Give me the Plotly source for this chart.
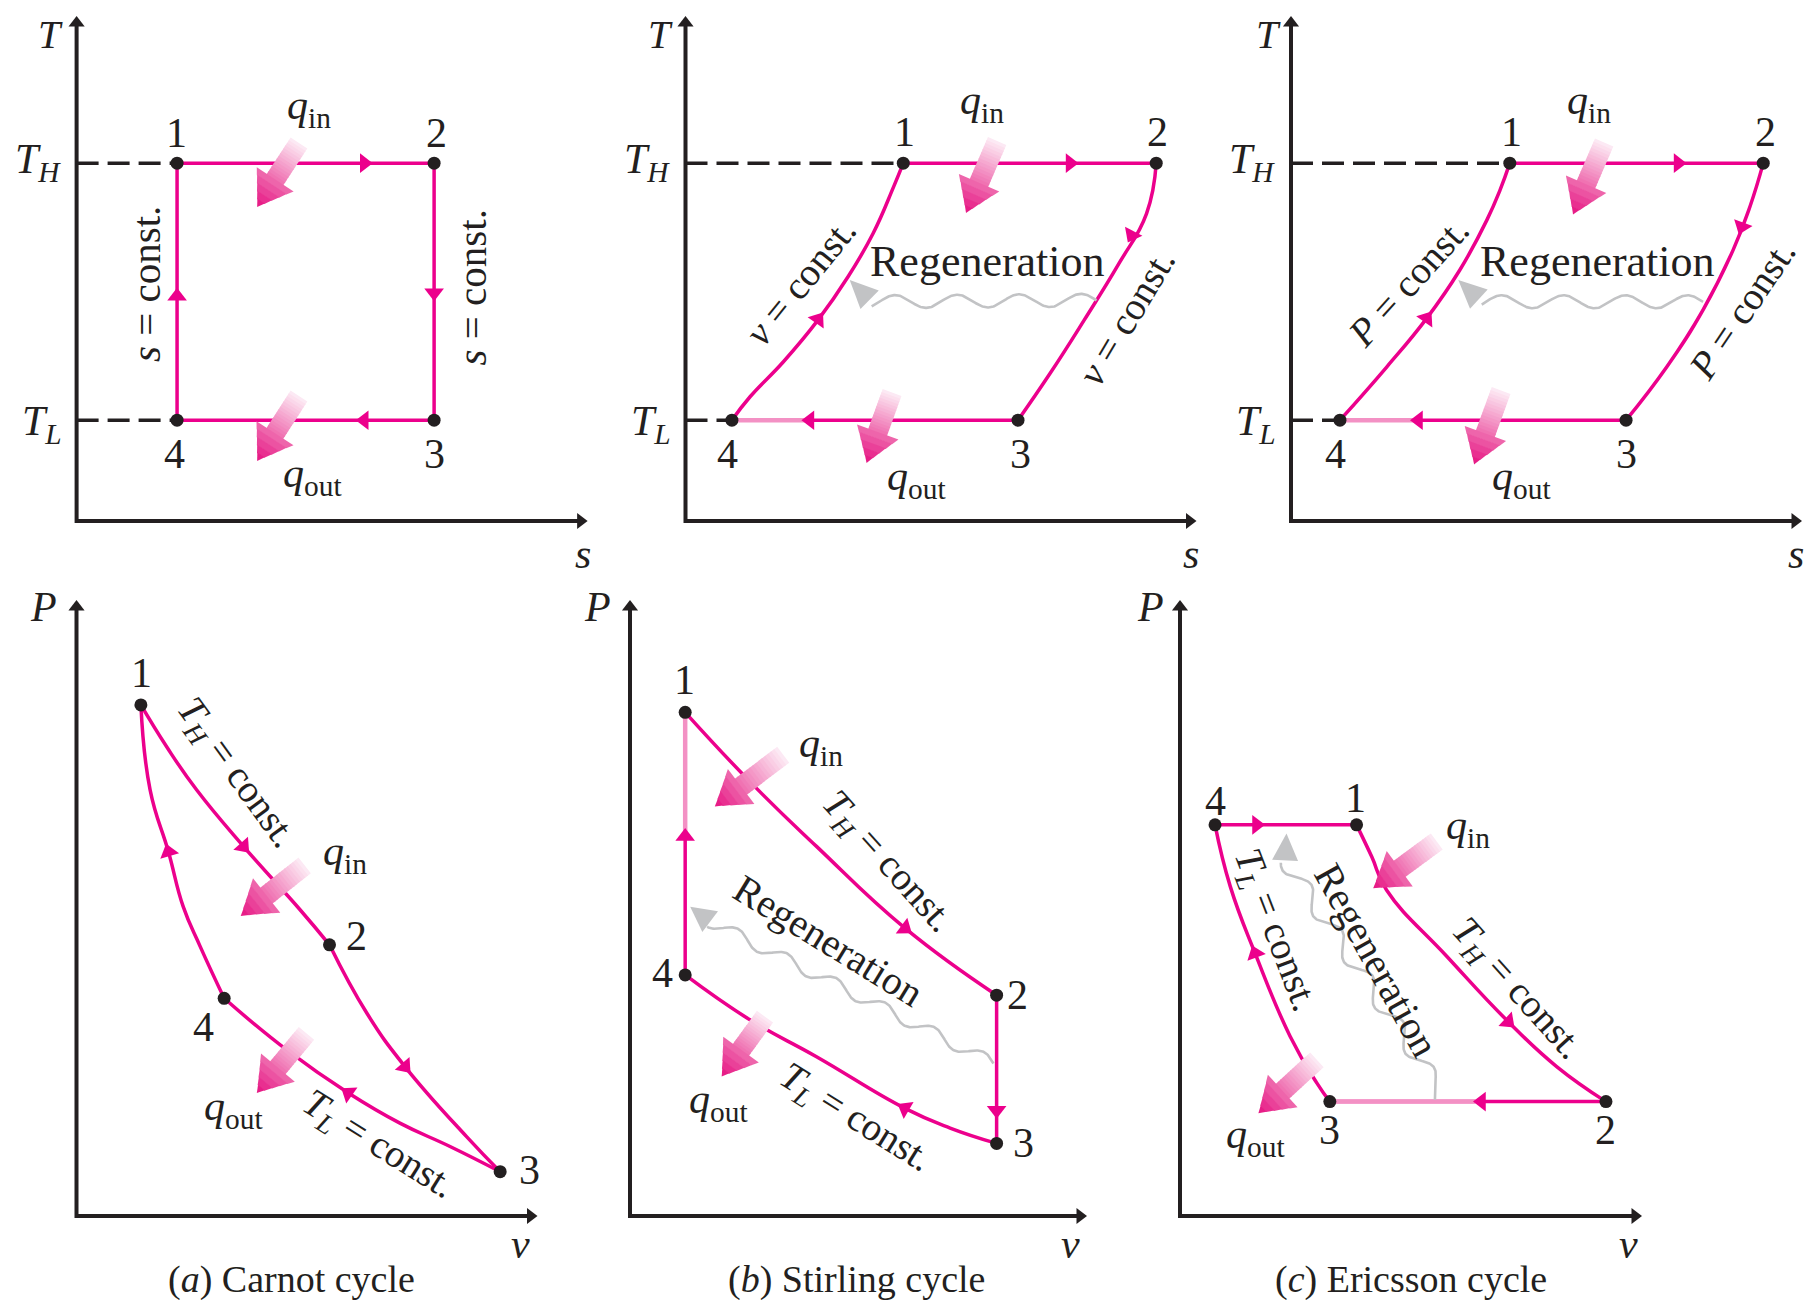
import numpy as np
import plotly.graph_objects as go

# page size and the 8px body margin of the html page
PW, PH = 1819, 1308
OFF = 8
WF, HF = PW - 2 * OFF, PH - 2 * OFF

MAG = "#EC008C"
MAG_LIGHT = "#F391C4"
INK = "#231F20"
GRAY = "#C2C3C5"
FONT = "Liberation Serif"

# ---------------- data: state points and curve points (units 0-10 on each axis) -------------
# (a) Carnot cycle, T-s   (states 1,2,3,4)
A_TS_S = [1.97, 7.01, 7.01, 1.97]
A_TS_T = [7.10, 7.10, 2.00, 2.00]
# (b) Stirling cycle, T-s
B_TS_S = [4.27, 9.23, 6.52, 0.91]
B_TS_T = [7.10, 7.10, 2.00, 2.00]
B_TS_41_S = [1.27, 1.92, 2.60, 3.19, 3.68, 4.08]   # v = const, 4 -> 1
B_TS_41_T = [2.47, 3.16, 3.99, 4.85, 5.71, 6.63]
B_TS_23_S = [9.04, 8.50, 7.82, 7.15]               # v = const, 2 -> 3
B_TS_23_T = [6.10, 5.11, 3.99, 2.93]
# (c) Ericsson cycle, T-s
C_TS_S = [4.29, 9.26, 6.57, 0.96]
C_TS_T = [7.10, 7.10, 2.00, 2.00]
C_TS_41_S = [1.88, 2.66, 3.31, 3.84, 4.10]         # P = const, 4 -> 1
C_TS_41_T = [3.06, 4.02, 4.98, 5.97, 6.57]
C_TS_23_S = [9.00, 8.67, 8.08, 7.37]               # P = const, 2 -> 3
C_TS_23_T = [6.24, 5.38, 4.19, 3.06]
# (a) Carnot cycle, P-v
A_PV_V = [1.40, 5.50, 9.21, 3.21]
A_PV_P = [8.31, 4.41, 0.72, 3.54]
A_PV_12_V = [1.96, 2.61, 3.63, 4.86]
A_PV_12_P = [7.63, 6.93, 6.01, 4.98]
A_PV_23_V = [6.31, 7.14, 8.48]
A_PV_23_P = [3.30, 2.43, 1.29]
A_PV_43_V = [4.57, 5.91, 7.03, 8.12]
A_PV_43_P = [2.70, 2.00, 1.51, 1.13]
A_PV_41_V = [2.69, 2.32, 2.00, 1.60]
A_PV_41_P = [4.38, 5.03, 5.92, 6.93]
# (b) Stirling cycle, P-v
B_PV_V = [1.21, 8.04, 8.04, 1.21]
B_PV_P = [8.19, 3.59, 1.18, 3.92]
B_PV_12_V = [2.70, 4.09, 6.03]
B_PV_12_P = [7.01, 6.01, 4.68]
B_PV_43_V = [2.63, 4.09, 6.03, 7.02]
B_PV_43_P = [3.19, 2.59, 1.75, 1.43]
# (c) Ericsson cycle, P-v
C_PV_V = [3.83, 9.24, 3.25, 0.76]
C_PV_P = [6.36, 1.86, 1.86, 6.36]
C_PV_12_V = [4.16, 4.48, 5.79, 7.12, 8.17]
C_PV_12_P = [5.84, 5.30, 4.22, 3.16, 2.43]
C_PV_43_V = [1.09, 1.63, 2.39, 2.97]
C_PV_43_P = [5.36, 4.27, 2.92, 2.16]

STATES = ["1", "2", "3", "4"]
CAPTIONS = ["(<i>a</i>) Carnot cycle", "(<i>b</i>) Stirling cycle", "(<i>c</i>) Ericsson cycle"]

# ---------------- panel geometry (page pixels) -------------
# origin x, origin y, x-axis length, y-axis length
GEOM = {1: (76.6, 521, 510, 504), 2: (685.5, 521, 510, 504), 3: (1291, 521, 510, 504),
        4: (76.5, 1216, 460, 615), 5: (630, 1216, 456, 615), 6: (1180, 1216, 461, 615)}
# subplot extents: left, right, top, bottom
EXT = {1: (10, 612, 10, 590), 2: (614, 1222, 10, 590), 3: (1224, 1810, 10, 590),
       4: (10, 560, 592, 1296), 5: (562, 1108, 592, 1296), 6: (1110, 1810, 592, 1296)}

traces, annotations = [], []


def refs(k):
    s = "" if k == 1 else str(k)
    return "x" + s, "y" + s


def to_px(k, u, v):
    x0, y0, lx, ly = GEOM[k]
    return x0 + np.asarray(u, float) * lx / 10.0, y0 - np.asarray(v, float) * ly / 10.0


def to_u(k, px, py):
    x0, y0, lx, ly = GEOM[k]
    return (np.asarray(px, float) - x0) * 10.0 / lx, (y0 - np.asarray(py, float)) * 10.0 / ly


def line(k, xs, ys, color=MAG, width=3.5, shape="linear", dash=None):
    xr, yr = refs(k)
    traces.append(go.Scatter(x=list(xs), y=list(ys), mode="lines", xaxis=xr, yaxis=yr,
                             line=dict(color=color, width=width, shape=shape, dash=dash,
                                       smoothing=1.3 if shape == "spline" else None),
                             hoverinfo="skip", showlegend=False))


def dots(k, xs, ys):
    xr, yr = refs(k)
    traces.append(go.Scatter(x=list(xs), y=list(ys), mode="markers", xaxis=xr, yaxis=yr,
                             marker=dict(color=INK, size=13), hoverinfo="skip",
                             showlegend=False, cliponaxis=False))


def poly(k, pts, color):
    pts = np.array(pts)
    u, v = to_u(k, pts[:, 0], pts[:, 1])
    xr, yr = refs(k)
    traces.append(go.Scatter(x=list(u) + [u[0]], y=list(v) + [v[0]], mode="lines", fill="toself",
                             fillcolor=color, line=dict(width=0, color=color), xaxis=xr, yaxis=yr,
                             hoverinfo="skip", showlegend=False))


def rgb(c):
    return "rgb(%d,%d,%d)" % tuple(int(round(x)) for x in c)


def tri(k, cu, cv, du, dv, size=17, color=MAG):
    """triangle marker at (cu,cv) pointing toward (du,dv)"""
    cx, cy = to_px(k, cu, cv)
    dx, dy = to_px(k, du, dv)
    ang = float(np.degrees(np.arctan2(dx - cx, -(dy - cy))))
    xr, yr = refs(k)
    traces.append(go.Scatter(x=[cu], y=[cv], mode="markers", xaxis=xr, yaxis=yr,
                             marker=dict(symbol="triangle-up", size=size, color=color, angle=ang,
                                         line=dict(width=0)),
                             hoverinfo="skip", showlegend=False, cliponaxis=False))


def heat_arrow(k, tu, tv, hu, hv, hl=33, hw=22, sw=10, n=14):
    tx, ty = to_px(k, tu, tv)
    hx, hy = to_px(k, hu, hv)
    d = np.array([hx - tx, hy - ty])
    L = np.hypot(*d)
    d /= L
    nr = np.array([-d[1], d[0]])
    P = lambda s, w: (tx + d[0] * s + nr[0] * w, ty + d[1] * s + nr[1] * w)
    c0 = np.array([253, 238, 246]); c1 = np.array([239, 110, 176]); c2 = np.array([230, 20, 130])
    base = L - hl
    for i in range(n):
        s0 = base * i / n
        s1 = base * (i + 1) / n + 0.8
        col = c0 + (c1 - c0) * (i + 0.5) / n
        poly(k, [P(s0, -sw), P(s1, -sw), P(s1, sw), P(s0, sw)], rgb(col))
    m = 5
    for j in range(m):
        f0, f1 = j / m, (j + 1) / m
        w0, w1 = hw * (1 - f0), hw * (1 - f1)
        s0 = base + hl * f0 - (0.6 if j else 0)
        s1 = base + hl * f1
        col = c1 + (c2 - c1) * (j + 0.5) / m
        if j == m - 1:
            poly(k, [P(s0, -w0), P(s1, 0), P(s0, w0)], rgb(col))
        else:
            poly(k, [P(s0, -w0), P(s1, -w1), P(s1, w1), P(s0, w0)], rgb(col))


def regen(k, A, B, tip, lead=None, amp=6.5, lam=62, hl=28, hw=13):
    ax_, ay_ = to_px(k, *A)
    bx, by = to_px(k, *B)
    d = np.array([bx - ax_, by - ay_])
    L = np.hypot(*d)
    d /= L
    nr = np.array([-d[1], d[0]])
    s = np.linspace(0, L, 400)
    off = amp * np.sin(2 * np.pi * s / lam)
    xs = ax_ + d[0] * s + nr[0] * off
    ys = ay_ + d[1] * s + nr[1] * off
    if lead is not None:
        lx, ly = to_px(k, *lead)
        xs = np.concatenate([[lx], xs])
        ys = np.concatenate([[ly], ys])
    u, v = to_u(k, xs, ys)
    line(k, u, v, color=GRAY, width=2.6)
    tx, ty = to_px(k, *tip)
    e = np.array([tx - bx, ty - by])
    e /= np.hypot(*e)
    en = np.array([-e[1], e[0]])
    b0 = np.array([tx, ty]) - hl * e
    poly(k, [(tx, ty), tuple(b0 + hw * en), tuple(b0 - hw * en)], GRAY)


def axes_lines(k):
    x0, y0, lx, ly = GEOM[k]
    # arrow marker centres sit 6 px short of the axis tips
    xe = 10 - 6 * 10.0 / lx
    ye = 10 - 6 * 10.0 / ly
    line(k, [xe, 0, 0], [0, 0, ye], color=INK, width=4)
    tri(k, xe, 0, 10, 0, size=14, color=INK)
    tri(k, 0, ye, 0, 10, size=14, color=INK)


def txt(k, u, v, s, size=42, angle=0, color=INK):
    xr, yr = refs(k)
    annotations.append(dict(x=u, y=v, xref=xr, yref=yr, text=s, showarrow=False, textangle=angle,
                            font=dict(family=FONT, size=size, color=color),
                            xanchor="center", yanchor="middle"))


QIN = "<i>q</i><sub>in</sub>"
QOUT = "<i>q</i><sub>out</sub>"
TH = "<i>T</i><sub><i>H</i></sub>"
TL = "<i>T</i><sub><i>L</i></sub>"
DASH = "22px,9px"

for k in GEOM:
    axes_lines(k)

# ======================= (a) Carnot T-s =======================
k = 1
S, T = A_TS_S, A_TS_T
line(k, [0, S[0]], [T[0], T[0]], color=INK, width=3.5, dash=DASH)
line(k, [0, S[3]], [T[3], T[3]], color=INK, width=3.5, dash=DASH)
line(k, S + [S[0]], T + [T[0]])
heat_arrow(k, 4.36, 7.50, 3.54, 6.23)
heat_arrow(k, 4.36, 2.48, 3.54, 1.19)
tri(k, 5.64, T[0], 7.0, T[0])
tri(k, S[1], 4.53, S[1], 2.0)
tri(k, 5.64, T[2], 3.0, T[2])
tri(k, S[0], 4.46, S[0], 7.0)
dots(k, S, T)
txt(k, -0.52, 9.66, "<i>T</i>", size=40)
txt(k, -0.76, 7.12, TH)
txt(k, -0.68, 1.92, TL)
txt(k, 9.93, -0.65, "<i>s</i>")
for lab, (u, v) in zip(STATES, [(1.95, 7.70), (7.05, 7.70), (7.01, 1.33), (1.91, 1.33)]):
    txt(k, u, v, lab)
txt(k, 4.56, 8.19, QIN)
txt(k, 4.62, 0.89, QOUT)
txt(k, 1.36, 4.70, "<i>s</i> = const.", size=41, angle=-90)
txt(k, 7.76, 4.64, "<i>s</i> = const.", size=41, angle=-90)

# ======================= (b) Stirling T-s =======================
k = 2
S, T = B_TS_S, B_TS_T
line(k, [0, S[0]], [T[0], T[0]], color=INK, width=3.5, dash=DASH)
line(k, [0, S[3]], [T[3], T[3]], color=INK, width=3.5, dash=DASH)
line(k, [S[0], S[1]], [T[0], T[1]])
line(k, [S[1]] + B_TS_23_S + [S[2]], [T[1]] + B_TS_23_T + [T[2]], shape="spline")
line(k, [S[2], S[3]], [T[2], T[3]])
line(k, [S[3], 2.4], [T[3], T[3]], color=MAG_LIGHT, width=4.5)
line(k, [S[3]] + B_TS_41_S + [S[0]], [T[3]] + B_TS_41_T + [T[0]], shape="spline")
regen(k, (8.06, 4.38), (3.65, 4.35), (3.22, 4.78))
heat_arrow(k, 6.11, 7.54, 5.50, 6.11)
heat_arrow(k, 4.05, 2.55, 3.55, 1.15)
tri(k, 7.54, T[0], 9.0, T[0])
tri(k, 2.44, T[2], 1.0, T[2])
tri(k, 2.60, 4.00, 3.19, 4.85)
tri(k, 8.75, 5.675, 8.46, 5.11)
dots(k, S, T)
txt(k, -0.50, 9.66, "<i>T</i>", size=40)
txt(k, -0.76, 7.12, TH)
txt(k, -0.68, 1.92, TL)
txt(k, 9.91, -0.65, "<i>s</i>")
for lab, (u, v) in zip(STATES, [(4.30, 7.72), (9.25, 7.72), (6.56, 1.33), (0.83, 1.33)]):
    txt(k, u, v, lab)
txt(k, 5.81, 8.29, QIN)
txt(k, 4.52, 0.83, QOUT)
txt(k, 2.245, 4.75, "<i>v</i> = const.", size=39, angle=-51)
txt(k, 8.65, 4.05, "<i>v</i> = const.", size=39, angle=-59)
txt(k, 5.93, 5.14, "Regeneration", size=44)

# ======================= (c) Ericsson T-s =======================
k = 3
S, T = C_TS_S, C_TS_T
line(k, [0, S[0]], [T[0], T[0]], color=INK, width=3.5, dash=DASH)
line(k, [0, S[3]], [T[3], T[3]], color=INK, width=3.5, dash=DASH)
line(k, [S[0], S[1]], [T[0], T[1]])
line(k, [S[1]] + C_TS_23_S + [S[2]], [T[1]] + C_TS_23_T + [T[2]], shape="spline")
line(k, [S[2], S[3]], [T[2], T[3]])
line(k, [S[3], 2.45], [T[3], T[3]], color=MAG_LIGHT, width=4.5)
line(k, [S[3]] + C_TS_41_S + [S[0]], [T[3]] + C_TS_41_T + [T[0]], shape="spline")
regen(k, (8.08, 4.35), (3.74, 4.35), (3.28, 4.78))
heat_arrow(k, 6.14, 7.51, 5.53, 6.08)
heat_arrow(k, 4.12, 2.59, 3.59, 1.12)
tri(k, 7.59, T[0], 9.0, T[0])
tri(k, 2.50, T[2], 1.0, T[2])
tri(k, 2.66, 4.02, 3.31, 4.98)
tri(k, 8.84, 5.84, 8.67, 5.38)
dots(k, S, T)
txt(k, -0.45, 9.66, "<i>T</i>", size=40)
txt(k, -0.76, 7.12, TH)
txt(k, -0.68, 1.92, TL)
txt(k, 9.90, -0.65, "<i>s</i>")
for lab, (u, v) in zip(STATES, [(4.33, 7.72), (9.31, 7.72), (6.57, 1.33), (0.88, 1.33)]):
    txt(k, u, v, lab)
txt(k, 5.85, 8.29, QIN)
txt(k, 4.52, 0.83, QOUT)
txt(k, 2.30, 4.75, "<i>P</i> = const.", size=39, angle=-48)
txt(k, 8.84, 4.19, "<i>P</i> = const.", size=39, angle=-56)
txt(k, 6.00, 5.14, "Regeneration", size=44)

# ======================= (a) Carnot P-v =======================
k = 4
V, P = A_PV_V, A_PV_P
line(k, [V[0]] + A_PV_12_V + [V[1]], [P[0]] + A_PV_12_P + [P[1]], shape="spline")
line(k, [V[1]] + A_PV_23_V + [V[2]], [P[1]] + A_PV_23_P + [P[2]], shape="spline")
line(k, [V[3]] + A_PV_43_V + [V[2]], [P[3]] + A_PV_43_P + [P[2]], shape="spline")
line(k, [V[3]] + A_PV_41_V + [V[0]], [P[3]] + A_PV_41_P + [P[0]], shape="spline")
heat_arrow(k, 4.96, 5.70, 3.57, 4.88)
heat_arrow(k, 5.00, 2.97, 3.92, 2.00)
tri(k, 3.63, 6.01, 4.86, 4.98)
tri(k, 7.14, 2.43, 8.48, 1.29)
tri(k, 5.91, 2.00, 4.57, 2.70)
tri(k, 2.00, 5.92, 1.60, 6.93)
dots(k, V, P)
txt(k, -0.71, 9.90, "<i>P</i>")
txt(k, 9.65, -0.455, "<i>v</i>")
for lab, (u, v) in zip(STATES, [(1.41, 8.83), (6.09, 4.56), (9.84, 0.75), (2.77, 3.07)]):
    txt(k, u, v, lab)
txt(k, 5.84, 5.89, QIN)
txt(k, 3.42, 1.74, QOUT)
txt(k, 3.46, 7.19, TH + " = const.", size=39, angle=54)
txt(k, 6.56, 1.15, TL + " = const.", size=39, angle=32)

# ======================= (b) Stirling P-v =======================
k = 5
V, P = B_PV_V, B_PV_P
line(k, [V[0]] + B_PV_12_V + [V[1]], [P[0]] + B_PV_12_P + [P[1]], shape="spline")
line(k, [V[1], V[2]], [P[1], P[2]])
line(k, [V[3]] + B_PV_43_V + [V[2]], [P[3]] + B_PV_43_P + [P[2]], shape="spline")
line(k, [V[3], V[0]], [P[3], P[0]])
line(k, [V[3], V[0]], [6.17, P[0]], color=MAG_LIGHT, width=4.5)
regen(k, (7.97, 2.48), (1.75, 4.79), (1.32, 5.03), amp=6, lam=55, hl=25)
heat_arrow(k, 3.36, 7.50, 1.86, 6.66)
heat_arrow(k, 2.96, 3.24, 2.01, 2.27)
tri(k, 6.03, 4.68, 8.04, 3.59)
tri(k, V[1], 1.72, V[1], 1.0)
tri(k, 6.03, 1.75, 4.09, 2.59)
tri(k, V[0], 6.17, V[0], 8.0)
dots(k, V, P)
txt(k, -0.71, 9.90, "<i>P</i>")
txt(k, 9.66, -0.455, "<i>v</i>")
for lab, (u, v) in zip(STATES, [(1.20, 8.72), (8.49, 3.59), (8.62, 1.19), (0.72, 3.95)]):
    txt(k, u, v, lab)
txt(k, 4.18, 7.64, QIN)
txt(k, 1.95, 1.85, QOUT)
txt(k, 5.63, 5.74, TH + " = const.", size=39, angle=48)
txt(k, 4.93, 1.59, TL + " = const.", size=39, angle=32)
txt(k, 4.35, 4.48, "Regeneration", size=40, angle=31.5)

# ======================= (c) Ericsson P-v =======================
k = 6
V, P = C_PV_V, C_PV_P
line(k, [V[3], V[0]], [P[3], P[0]])
line(k, [V[0]] + C_PV_12_V + [V[1]], [P[0]] + C_PV_12_P + [P[1]], shape="spline")
line(k, [V[1], V[2]], [P[1], P[2]])
line(k, [V[2], 6.4], [P[2], P[2]], color=MAG_LIGHT, width=4.5)
line(k, [V[3]] + C_PV_43_V + [V[2]], [P[3]] + C_PV_43_P + [P[2]], shape="spline")
regen(k, (5.53, 2.16), (2.28, 5.79), (2.31, 6.22), lead=(5.53, 1.89), amp=8, lam=55, hl=27)
heat_arrow(k, 5.57, 6.09, 4.19, 5.33)
heat_arrow(k, 2.97, 2.54, 1.70, 1.67)
tri(k, 1.66, P[3], 3.0, P[3])
tri(k, 7.12, 3.16, 8.17, 2.43)
tri(k, 6.54, P[1], 5.0, P[1])
tri(k, 1.63, 4.27, 1.09, 5.36)
dots(k, V, P)
txt(k, -0.63, 9.90, "<i>P</i>")
txt(k, 9.72, -0.455, "<i>v</i>")
for lab, (u, v) in zip(STATES, [(3.80, 6.80), (9.24, 1.40), (3.25, 1.40), (0.76, 6.74)]):
    txt(k, u, v, lab)
txt(k, 6.24, 6.31, QIN)
txt(k, 1.63, 1.28, QOUT)
txt(k, 2.06, 4.65, TL + " = const.", size=39, angle=69)
txt(k, 7.30, 3.68, TH + " = const.", size=39, angle=48)
txt(k, 4.27, 4.16, "Regeneration", size=40, angle=61)

# captions
for cap, cx in zip(CAPTIONS, [291, 857, 1411]):
    annotations.append(dict(x=(cx - OFF) / WF, y=-3.0 / HF, xref="paper", yref="paper", text=cap,
                            showarrow=False, xanchor="center", yanchor="bottom",
                            font=dict(family=FONT, size=38, color=INK)))

layout = dict(width=WF, height=HF, margin=dict(l=0, r=0, t=0, b=0, pad=0), paper_bgcolor="white",
              plot_bgcolor="rgba(0,0,0,0)", showlegend=False, annotations=annotations)
for k, (x0, y0, lx, ly) in GEOM.items():
    L, R, Tp, B = EXT[k]
    s = "" if k == 1 else str(k)
    layout["xaxis" + s] = dict(domain=[(L - OFF) / WF, (R - OFF) / WF],
                               range=[(L - x0) * 10 / lx, (R - x0) * 10 / lx],
                               visible=False, anchor="y" + s, fixedrange=True)
    layout["yaxis" + s] = dict(domain=[1 - (B - OFF) / HF, 1 - (Tp - OFF) / HF],
                               range=[(y0 - B) * 10 / ly, (y0 - Tp) * 10 / ly],
                               visible=False, anchor="x" + s, fixedrange=True)

fig = go.Figure(data=traces, layout=layout)
fig.write_html("out.html")
